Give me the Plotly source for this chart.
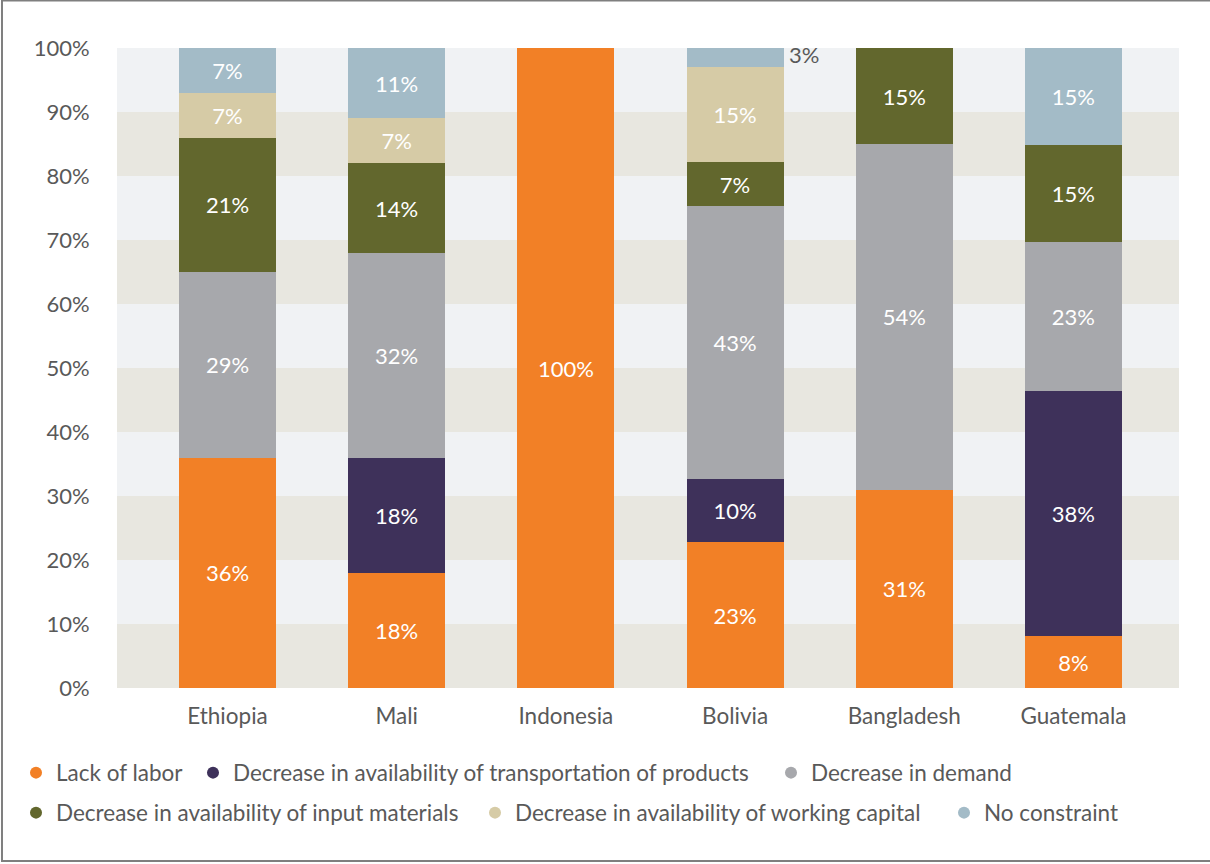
import plotly.graph_objects as go

# Countries on the x axis
countries = ["Ethiopia", "Mali", "Indonesia", "Bolivia", "Bangladesh", "Guatemala"]

# Share of firms (%) reporting each main constraint, per country
lack_of_labor = [36, 18, 100, 23, 31, 8]
transport = [0, 18, 0, 10, 0, 38]
demand = [29, 32, 0, 43, 54, 23]
input_materials = [21, 14, 0, 7, 15, 15]
working_capital = [7, 7, 0, 15, 0, 0]
no_constraint = [7, 11, 0, 3, 0, 15]

# y-axis ticks
y_ticks = list(range(0, 101, 10))
y_tick_labels = [f"{t}%" for t in y_ticks]

series = [
    ("Lack of labor", lack_of_labor, "#F28026"),
    ("Decrease in availability of transportation of products", transport, "#3E315A"),
    ("Decrease in demand", demand, "#A7A8AC"),
    ("Decrease in availability of input materials", input_materials, "#62672D"),
    ("Decrease in availability of working capital", working_capital, "#D6CBA6"),
    ("No constraint", no_constraint, "#A3BBC7"),
]

FONT = "Lato, 'Open Sans', sans-serif"
LABEL_GREY = "#595959"
BAR_WIDTH = 0.573
FS = 22
LEGEND_FS = 22.5

fig = go.Figure()

for name, vals, color in series:
    labels = []
    for c, v in zip(countries, vals):
        # the thin Bolivia "no constraint" slice is labelled beside the bar
        if v == 0 or (c == "Bolivia" and name == "No constraint"):
            labels.append("")
        else:
            labels.append(f"{v}%")
    fig.add_trace(go.Bar(
        x=countries, y=vals, name=name, marker=dict(color=color, line=dict(width=0)),
        width=BAR_WIDTH, text=labels, textposition="inside", insidetextanchor="middle",
        textangle=0, constraintext="none",
        textfont=dict(family=FONT, size=FS, color="white"),
        showlegend=False, hoverinfo="x+y+name",
    ))

# Legend entries with round markers: two rows, the last entry in its own box
legend_of = ["legend", "legend", "legend", "legend2", "legend2", "legend3"]
entry_widths = [132, 533, None, 414, 424, None]
for i, (name, vals, color) in enumerate(series):
    fig.add_trace(go.Scatter(
        x=[None], y=[None], mode="markers", name=name,
        marker=dict(symbol="circle", size=12, color=color),
        legend=legend_of[i], legendwidth=entry_widths[i],
    ))

# Label for the small top slice of Bolivia, outside the bar
bol = countries.index("Bolivia")
bol_top = no_constraint[bol]
fig.add_annotation(
    x=bol + BAR_WIDTH / 2, y=100 - bol_top / 2, xref="x", yref="y",
    text=f"{bol_top}%", showarrow=False, xanchor="left", xshift=3, yshift=3,
    font=dict(family=FONT, size=FS, color=LABEL_GREY),
)

# Alternating horizontal background bands
for k in range(0, 10, 2):
    fig.add_shape(type="rect", xref="paper", yref="y", x0=0, x1=1, y0=k * 10, y1=k * 10 + 10,
                  fillcolor="#E8E7E0", line=dict(width=0), layer="below")

# Frame around the chart (its right side runs past the page edge)
fig.add_shape(type="rect", xref="paper", yref="paper",
              x0=-0.1083, x1=1.2, y0=-0.2703, y1=1.0742,
              line=dict(color="#7F7F7F", width=2), fillcolor="rgba(0,0,0,0)")

legend_common = dict(
    orientation="h", xref="container", yref="container", xanchor="left", yanchor="middle",
    font=dict(family=FONT, size=LEGEND_FS, color=LABEL_GREY), bgcolor="rgba(0,0,0,0)",
    itemsizing="trace", traceorder="normal",
)

fig.update_layout(
    width=1210, height=864,
    margin=dict(l=117, r=31, t=48, b=176),
    barmode="stack", barnorm="percent",
    paper_bgcolor="white", plot_bgcolor="#F0F2F4",
    font=dict(family=FONT, size=FS, color=LABEL_GREY),
    xaxis=dict(range=[-0.653, 5.624], showgrid=False, zeroline=False, showline=False,
               ticks="outside", ticklen=8, tickcolor="rgba(0,0,0,0)",
               tickfont=dict(family=FONT, size=LEGEND_FS, color=LABEL_GREY)),
    yaxis=dict(range=[0, 100], tickmode="array", tickvals=y_ticks, ticktext=y_tick_labels,
               showgrid=False, zeroline=False, showline=False,
               ticks="outside", ticklen=22, tickcolor="rgba(0,0,0,0)",
               tickfont=dict(family=FONT, size=FS, color=LABEL_GREY)),
    legend=dict(x=16 / 1210, y=1 - 773 / 864, **legend_common),
    legend2=dict(x=16 / 1210, y=1 - 813 / 864, **legend_common),
    legend3=dict(x=944 / 1210, y=1 - 813 / 864, **legend_common),
    showlegend=True,
    bargap=0.43,
)

fig.write_html("out.html")
